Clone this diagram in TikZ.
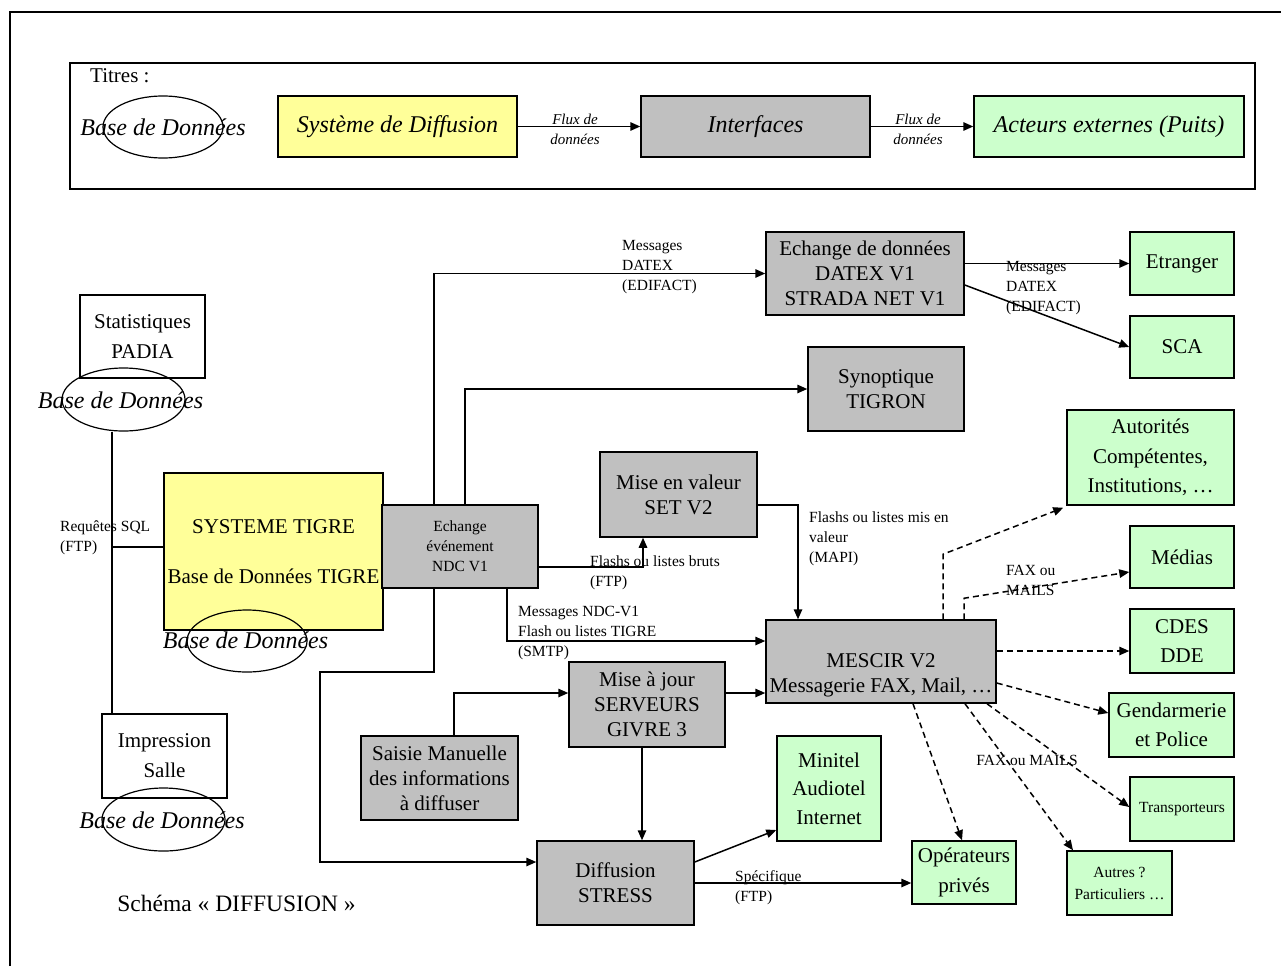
\documentclass[tikz,border=0pt]{standalone}
\usepackage{fontspec}
\setmainfont{Liberation Serif}
\usetikzlibrary{arrows.meta,shapes.geometric}
\definecolor{boxgray}{HTML}{C0C0C0}
\definecolor{boxyellow}{HTML}{FFFF99}
\definecolor{boxgreen}{HTML}{CCFFCC}
\newcommand\txtbig{\fontsize{21}{25}\selectfont}
\newcommand\txtwide{\fontsize{21}{29.5}\selectfont}
\newcommand\txtsmall{\fontsize{15.5}{20}\selectfont}
\newcommand\txtleg{\fontsize{24}{28}\selectfont\itshape}
\newcommand\txtflux{\fontsize{15}{20}\selectfont\itshape}

\begin{document}
\begin{tikzpicture}[x=1pt,y=-1pt,
  box/.style={draw, line width=1.5pt, inner sep=0pt, align=center, font=\txtbig},
  graybox/.style={box, fill=boxgray},
  yellowbox/.style={box, fill=boxyellow},
  greenbox/.style={box, fill=boxgreen},
  whitebox/.style={box, fill=white},
  dbshape/.style={draw, ellipse, line width=1.2pt, inner sep=0pt},
  dbtext/.style={font=\txtleg, inner sep=0pt},
  link/.style={line width=1.5pt},
  flow/.style={link, -{Triangle[length=10pt,width=8.5pt]}},
  dflow/.style={flow, dash pattern=on 6pt off 4pt},
  lbl/.style={font=\txtsmall, align=left, inner sep=0pt, anchor=north west},
]
\useasboundingbox (0,0) rectangle (1281,966);
\fill[white] (0,0) rectangle (1281,966);

% page frame
\draw[line width=1.2pt] (10,966) -- (10,12) -- (1281,12);

% ---------- legend ----------
\node[draw, line width=1.5pt, minimum width=1185, minimum height=126, inner sep=0pt] (legend) at (662.5,126) {};
\node[font=\txtbig, anchor=west, inner sep=0pt] (titres) at (90,76) {Titres :};
\node[dbshape, minimum width=120, minimum height=62] (legdb) at (163,127) {};
\node[dbtext] (legdbtxt) at (legdb.center) {Base de Données};
\node[yellowbox, font=\txtleg, minimum width=239, minimum height=61] (legsys) at (397.5,126.5) {Système de Diffusion};
\node[graybox, font=\txtleg, minimum width=229, minimum height=61] (leginter) at (755.5,126.5) {Interfaces};
\node[greenbox, font=\txtleg, minimum width=270, minimum height=61] (legact) at (1109,126.5) {Acteurs externes (Puits)};
\draw[flow] (legsys.east) -- (leginter.west);
\draw[flow] (leginter.east) -- (legact.west);
\node[font=\txtflux, align=center, inner sep=0pt] (flux1) at (575,129) {Flux de\\données};
\node[font=\txtflux, align=center, inner sep=0pt] (flux2) at (918,129) {Flux de\\données};

% ---------- left column ----------
\node[whitebox, minimum width=125, minimum height=83] (stat) at (142.5,336.5) {Statistiques\\[5pt]PADIA};
\node[dbshape, minimum width=123, minimum height=63] (statdb) at (123.5,399.5) {};
\node[dbtext] (statdbtxt) at (120.5,400) {Base de Données};

\node[yellowbox, minimum width=219, minimum height=157] (tigre) at (273.5,551.5) {SYSTEME TIGRE\\[25pt]Base de Données TIGRE};
\node[dbshape, minimum width=120, minimum height=62] (tigredb) at (247,641) {};
\node[dbtext] (tigredbtxt) at (245.5,640) {Base de Données};

\node[whitebox, minimum width=125, minimum height=84] (imp) at (164.5,756) {Impression\\[5pt]Salle};
\node[dbshape, minimum width=123, minimum height=63] (impdb) at (163.5,819.5) {};
\node[dbtext] (impdbtxt) at (162,820) {Base de Données};

\node[font=\fontsize{23.5}{28}\selectfont, inner sep=0pt] (schema) at (236.5,903) {Schéma « DIFFUSION »};

\coordinate (sqlx) at (112,547);
\draw[link] (statdb.south -| sqlx) -- (imp.north -| sqlx);
\draw[link] (sqlx) -- (sqlx -| tigre.west);
\node[lbl] (sqllbl) at (60,521) {Requêtes SQL\\(FTP)};

% ---------- core systems ----------
\node[graybox, font=\txtsmall, minimum width=156, minimum height=83] (ndc) at (460,546.5) {Echange\\événement\\NDC V1};
\node[graybox, minimum width=198, minimum height=83] (datex) at (865,273.5) {Echange de données\\DATEX V1\\STRADA NET V1};
\node[graybox, minimum width=156, minimum height=84] (syn) at (886,389) {Synoptique\\TIGRON};
\node[graybox, minimum width=157, minimum height=85] (set) at (678.5,494.5) {Mise en valeur\\SET V2};
\node[graybox, minimum width=230, minimum height=83] (mescir) at (881,661.5) {};
\node[inner sep=0pt, align=center, font=\txtbig] (mescirtxt) at ([yshift=-13.5]mescir.center) {MESCIR V2\\Messagerie FAX, Mail, …};
\node[graybox, minimum width=156, minimum height=85] (givre) at (647,704.5) {Mise à jour\\SERVEURS\\GIVRE 3};
\node[graybox, minimum width=157, minimum height=84] (saisie) at (439.5,778) {Saisie Manuelle\\des informations\\à diffuser};
\node[graybox, minimum width=157, minimum height=84] (diff) at (615.5,883) {Diffusion\\STRESS};

% ---------- external actors ----------
\node[greenbox, minimum width=104, minimum height=63] (etr) at (1182,263.5) {Etranger};
\node[greenbox, minimum width=104, minimum height=62] (sca) at (1182,347) {SCA};
\node[greenbox, font=\txtwide, minimum width=167, minimum height=95] (aut) at (1150.5,457.5) {Autorités\\Compétentes,\\Institutions, …};
\node[greenbox, minimum width=104, minimum height=62] (med) at (1182,557) {Médias};
\node[greenbox, font=\txtwide, minimum width=104, minimum height=64] (cdes) at (1182,641) {CDES\\DDE};
\node[greenbox, font=\txtwide, minimum width=125, minimum height=64] (gend) at (1171.5,725) {Gendarmerie\\et Police};
\node[greenbox, font=\txtsmall, minimum width=104, minimum height=64] (trans) at (1182,809) {Transporteurs};
\node[greenbox, font=\txtsmall, minimum width=105, minimum height=64] (autres) at (1119.5,883) {Autres ?\\[2pt]Particuliers …};
\node[greenbox, font=\txtwide, minimum width=104, minimum height=63] (oper) at (964,872.5) {Opérateurs\\privés};
\node[greenbox, font=\fontsize{21}{28.5}\selectfont, minimum width=104, minimum height=105] (minitel) at (829,788.5) {Minitel\\Audiotel\\Internet};

% ---------- flows from NDC ----------
\draw[flow] ([xshift=-26]ndc.north) |- (datex.west);
\node[lbl] (datexlbl) at (622,240) {Messages\\DATEX\\(EDIFACT)};
\draw[flow] ([xshift=5]ndc.north) |- (syn.west);

\draw[flow] ([yshift=-20.5]ndc.east) -| ([xshift=-35.5]set.south);
\node[lbl] (ftplbl) at (590,556) {Flashs ou listes bruts\\(FTP)};

\draw[flow] ([xshift=47]ndc.south) |- ([yshift=20.5]mescir.west);
\node[lbl] (smtplbl) at (518,606) {Messages NDC-V1\\Flash ou listes TIGRE\\(SMTP)};

\coordinate (bend) at (320,672);
\draw[flow] ([xshift=-26]ndc.south) |- (bend) |- ([yshift=21]diff.west);

% ---------- DATEX outputs ----------
\draw[flow] (datex.east |- etr.west) -- (etr.west);
\draw[flow] ([yshift=-11.5]datex.east) -- (sca.west);
\node[lbl] (datexlbl2) at (1006,261) {Messages\\DATEX\\(EDIFACT)};

% ---------- SET V2 to MESCIR ----------
\draw[flow] ([yshift=-10.5]set.east) -| ([xshift=-83]mescir.north);
\node[lbl] (mapilbl) at (809,512) {Flashs ou listes mis en\\valeur\\(MAPI)};

% ---------- GIVRE ----------
\draw[flow] ([yshift=11.5]givre.east) coordinate (g1) -- (g1 -| mescir.west);
\draw[flow] ([xshift=14.5]saisie.north) |- ([yshift=11.5]givre.west);
\draw[flow] ([xshift=-5]givre.south) coordinate (g2) -- (g2 |- diff.north);

% ---------- STRESS outputs ----------
\draw[flow] ([yshift=21]diff.east) -- ([yshift=-41.5]minitel.west);
\draw[flow] (diff.east) -- (diff.east -| oper.west);
\node[lbl] (speclbl) at (735,870) {Spécifique\\(FTP)};

% ---------- MESCIR outputs (FAX / mail) ----------
\draw[dflow] ([xshift=62]mescir.north) -- ++(0,-65) -- ([xshift=-3,yshift=-2]aut.south west);
\draw[dflow] ([xshift=83]mescir.north) -- ++(0,-21) -- ([yshift=-15]med.west);
\node[lbl] (faxlbl1) at (1006,565) {FAX ou\\MAILS};
\draw[dflow] ([yshift=10.5]mescir.east) -- ([yshift=-10]cdes.west);
\draw[dflow] ([yshift=-21.5]mescir.east) -- ([yshift=12]gend.west);
\draw[dflow] ([xshift=106]mescir.south) -- ([yshift=2]trans.west);
\draw[dflow] ([xshift=84]mescir.south) -- ([xshift=-46.5]autres.north);
\draw[dflow] ([xshift=32]mescir.south) -- ([xshift=-2]oper.north);
\node[font=\txtsmall, inner sep=0pt] (faxlbl2) at (1027,760) {FAX ou MAILS};

\end{tikzpicture}
\end{document}
